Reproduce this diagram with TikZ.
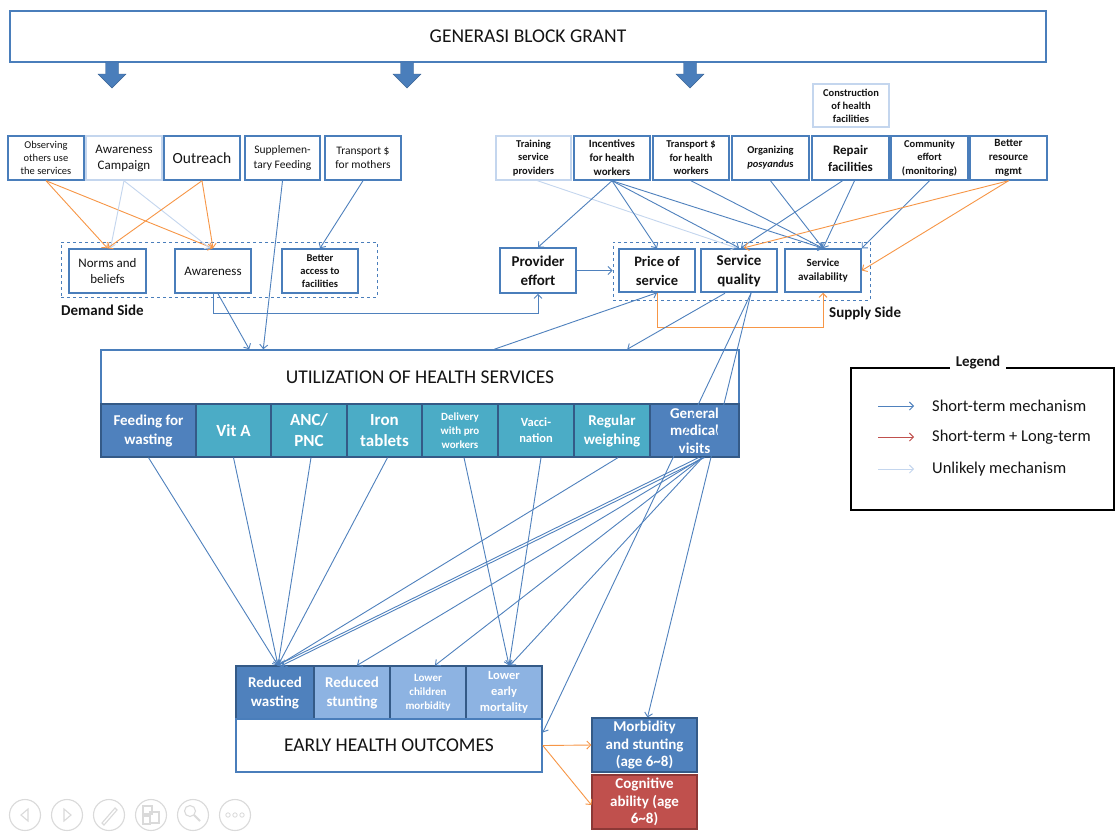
\documentclass[tikz,border=0pt]{standalone}
\usepackage{fontspec}
\setmainfont{Carlito}
\usetikzlibrary{arrows.meta,calc}
\pgfdeclarelayer{background}
\pgfsetlayers{background,main}
\definecolor{bl}{RGB}{74,126,187}
\definecolor{cb}{RGB}{79,129,189}
\definecolor{unl}{RGB}{196,214,238}
\definecolor{orl}{RGB}{247,150,70}
\definecolor{teal}{RGB}{75,172,198}
\definecolor{dkb}{RGB}{79,129,189}
\definecolor{ltb}{RGB}{141,179,226}
\definecolor{celb}{RGB}{52,90,135}
\definecolor{redc}{RGB}{192,80,77}
\definecolor{redb}{RGB}{140,56,54}
\definecolor{txt}{RGB}{20,20,20}
\definecolor{navg}{RGB}{218,218,218}
\newcommand\fz[2]{\fontsize{#1}{#2}\selectfont}
\begin{document}
\begin{tikzpicture}[x=1pt,y=-1pt,
  box/.style={draw=bl,line width=1.5pt,fill=white,align=center,inner sep=0pt,text=txt},
  lbox/.style={box,draw=unl},
  dbox/.style={draw=bl,line width=0.9pt,dashed,inner sep=0pt},
  cell/.style={draw=celb,line width=1.2pt,align=center,inner sep=0pt,text=white},
  barr/.style={draw=cb,line width=0.9pt,-{Straight Barb[length=4pt,width=8pt]}},
  larr/.style={draw=unl,line width=0.9pt,-{Straight Barb[length=4pt,width=8pt]}},
  oarr/.style={draw=orl,line width=0.9pt,-{Straight Barb[length=4pt,width=8pt]}},
  rarr/.style={draw=redc,line width=0.9pt,-{Straight Barb[length=4pt,width=8pt]}},
  blockarrow/.style={fill=bl,draw=bl!80!black,line width=0.4pt},
  nav/.style={draw=navg,line width=1.1pt}
]
\useasboundingbox[fill=white] (0,0) rectangle (1115,831);

% top box
\node[box,minimum width=1036pt,minimum height=51pt,font=\fz{19.5}{22}] (grant) at (528,36.5) {GENERASI BLOCK GRANT};
\foreach \c in {112,407,690}{
  \path[blockarrow] (\c-6.5,62) -- (\c+6.5,62) -- (\c+6.5,74) -- (\c+14,74) -- (\c,88) -- (\c-14,74) -- (\c-6.5,74) -- cycle;
}

% demand side
\node[dbox,minimum width=316pt,minimum height=55pt] (demand) at (219,269.5) {};
\node[anchor=west,font=\bfseries\fz{15}{17},text=txt,inner sep=0pt] (demlab) at (61,310) {Demand Side};
\node[box,minimum width=76pt,minimum height=44pt,font=\fz{10.5}{13}] (obs) at (46,158) {Observing\\others use\\the services};
\node[lbox,minimum width=76pt,minimum height=44pt,font=\fz{13}{16}] (awc) at (124,158) {Awareness\\Campaign};
\node[box,minimum width=76pt,minimum height=44pt,font=\fz{15.5}{18}] (outr) at (202,158) {Outreach};
\node[box,minimum width=75pt,minimum height=44pt,font=\fz{11.5}{14.5}] (supp) at (282.5,158) {Supplemen-\\tary Feeding};
\node[box,minimum width=76pt,minimum height=44pt,font=\fz{11.5}{14.5}] (trm) at (363,158) {Transport \$\\for mothers};
\node[box,minimum width=77pt,minimum height=44pt,font=\fz{13}{16}] (norms) at (107.5,271) {Norms and\\beliefs};
\node[box,minimum width=76pt,minimum height=44pt,font=\fz{13}{16}] (awa) at (213,271) {Awareness};
\node[box,minimum width=76pt,minimum height=44pt,font=\bfseries\fz{10.5}{13}] (bacc) at (320,271) {Better\\access to\\facilities};

% supply side
\node[dbox,minimum width=257pt,minimum height=58pt] (supply) at (741.5,271) {};
\node[anchor=west,font=\bfseries\fz{15}{17},text=txt,inner sep=0pt] (suplab) at (829,313) {Supply Side};
\node[lbox,minimum width=76pt,minimum height=43pt,font=\bfseries\fz{10.5}{13}] (cons) at (851,105.5) {Construction\\of health\\facilities};
\node[lbox,minimum width=75pt,minimum height=44pt,font=\bfseries\fz{10.5}{13.5}] (train) at (533.5,158) {Training\\service\\providers};
\node[box,minimum width=76pt,minimum height=44pt,font=\bfseries\fz{11}{14}] (inc) at (612,158) {Incentives\\for health\\workers};
\node[box,minimum width=76pt,minimum height=44pt,font=\bfseries\fz{10.5}{13.5}] (trh) at (691,158) {Transport \$\\for health\\workers};
\node[box,minimum width=77pt,minimum height=44pt,font=\bfseries\fz{10.5}{14}] (org) at (770.5,158) {Organizing\\\textit{posyandu}s};
\node[box,minimum width=77pt,minimum height=44pt,font=\bfseries\fz{13}{17}] (rep) at (850.5,158) {Repair\\facilities};
\node[box,minimum width=77pt,minimum height=44pt,font=\bfseries\fz{10.5}{13.5}] (com) at (929.5,158) {Community\\effort\\(monitoring)};
\node[box,minimum width=77pt,minimum height=44pt,font=\bfseries\fz{11}{14}] (brm) at (1008.5,158) {Better\\resource\\mgmt};
\node[box,minimum width=76pt,minimum height=45pt,font=\bfseries\fz{15}{19}] (prov) at (538,270.5) {Provider\\effort};
\node[box,minimum width=76pt,minimum height=43pt,font=\bfseries\fz{14.5}{19}] (price) at (657,270.5) {Price of\\service};
\node[box,line width=2.4pt,minimum width=76pt,minimum height=43pt,font=\bfseries\fz{15}{19}] (qual) at (739,270.5) {Service\\quality};
\node[box,minimum width=76pt,minimum height=43pt,font=\bfseries\fz{11}{14}] (avail) at (823,270.5) {Service\\availability};

% utilization
\node[box,minimum width=638pt,minimum height=54pt,font=\fz{19.5}{22}] (util) at (420,377) {UTILIZATION OF HEALTH SERVICES};
\node[cell,fill=dkb,minimum width=95pt,minimum height=53pt,font=\bfseries\fz{15}{19}] (feed) at (148.5,430.5) {Feeding for\\wasting};
\node[cell,fill=teal,minimum width=75pt,minimum height=53pt,font=\bfseries\fz{17}{21}] (vita) at (233.5,430.5) {Vit A};
\node[cell,fill=teal,minimum width=76pt,minimum height=53pt,font=\bfseries\fz{17}{21}] (anc) at (309,430.5) {ANC/\\PNC};
\node[cell,fill=teal,minimum width=75pt,minimum height=53pt,font=\bfseries\fz{17}{21}] (iron) at (384.5,430.5) {Iron\\tablets};
\node[cell,fill=teal,minimum width=76pt,minimum height=53pt,font=\bfseries\fz{11}{14}] (deliv) at (460,430.5) {Delivery\\with pro\\workers};
\node[cell,fill=teal,minimum width=76pt,minimum height=53pt,font=\bfseries\fz{12.5}{16}] (vacc) at (536,430.5) {Vacci-\\nation};
\node[cell,fill=teal,minimum width=76pt,minimum height=53pt,font=\bfseries\fz{15}{19}] (reg) at (612,430.5) {Regular\\weighing};
\node[cell,fill=dkb,minimum width=89pt,minimum height=53pt,font=\bfseries\fz{15}{17.5}] (gmv) at (694.5,430.5) {General\\medical\\visits};

% outcomes
\node[cell,fill=dkb,minimum width=78pt,minimum height=53pt,font=\bfseries\fz{15}{19}] (rw) at (275,692.5) {Reduced\\wasting};
\node[cell,fill=ltb,minimum width=76pt,minimum height=53pt,font=\bfseries\fz{15}{19}] (rs) at (352,692.5) {Reduced\\stunting};
\node[cell,fill=ltb,minimum width=76pt,minimum height=53pt,font=\bfseries\fz{11}{14}] (lcm) at (428,692.5) {Lower\\children\\morbidity};
\node[cell,fill=ltb,minimum width=76pt,minimum height=53pt,font=\bfseries\fz{12.5}{16}] (lem) at (504,692.5) {Lower\\early\\mortality};
\node[box,minimum width=306pt,minimum height=53pt,font=\fz{19.5}{22}] (eho) at (389,745.5) {EARLY HEALTH OUTCOMES};
\node[cell,fill=dkb,minimum width=105pt,minimum height=54pt,font=\bfseries\fz{15}{17.5}] (mors) at (644.5,745) {Morbidity\\and stunting\\(age 6\textasciitilde8)};
\node[cell,draw=redb,fill=redc,minimum width=105pt,minimum height=54pt,font=\bfseries\fz{15}{17.5}] (cog) at (644.5,802) {Cognitive\\ability (age\\6\textasciitilde8)};

% legend
\draw[line width=1.3pt,draw=black] (851,368) rectangle (1114,510);
\node[fill=white,inner xsep=6pt,inner ysep=1pt,font=\bfseries\fz{15}{17},text=txt] (leg) at (978,362) {Legend};
\coordinate (l1a) at (878,406); \coordinate (l1b) at (914,406);
\coordinate (l2a) at (878,437); \coordinate (l2b) at (914,437);
\coordinate (l3a) at (878,469); \coordinate (l3b) at (914,469);
\draw[barr] (l1a) -- (l1b);
\draw[rarr] (l2a) -- (l2b);
\draw[larr] (l3a) -- (l3b);
\node[anchor=west,inner sep=0pt,font=\fz{16.5}{19},text=txt] (t1) at (932,406) {Short-term mechanism};
\node[anchor=west,inner sep=0pt,font=\fz{16.5}{19},text=txt] (t2) at (932,437) {Short-term + Long-term};
\node[anchor=west,inner sep=0pt,font=\fz{16.5}{19},text=txt] (t3) at (932,469) {Unlikely mechanism};

% connectors: demand side
\draw[oarr] (obs.south) -- (norms.north);
\draw[oarr] (obs.south) -- (awa.north);
\draw[larr] (awc.south) -- ([xshift=3pt]norms.north);
\draw[larr] (awc.south) -- ([xshift=-3pt]awa.north);
\draw[oarr] (outr.south) -- (norms.north);
\draw[oarr] (outr.south) -- (awa.north);
\draw[barr] (supp.south) -- ([xshift=163pt]util.north west);
\draw[barr] (trm.south) -- (bacc.north);
\draw[barr] ([xshift=5pt]awa.south) -- ([xshift=149pt]util.north west);
\draw[barr] (awa.south) -- ++(0,20) -| (prov.south);

% connectors: supply side
\begin{pgfonlayer}{background}
\draw[larr] (cons.south) -- ([xshift=-2pt]avail.north);
\end{pgfonlayer}
\draw[larr] ([xshift=4pt]train.south) -- ([xshift=-3pt]qual.north);
\draw[barr] (inc.south) -- (prov.north);
\draw[barr] (inc.south) -- (price.north);
\draw[barr] (inc.south) -- (qual.north);
\draw[barr] (inc.south) -- (avail.north);
\draw[barr] (trh.south) -- (avail.north);
\draw[barr] (org.south) -- (avail.north);
\draw[barr] ([xshift=-8pt]rep.south) -- ([xshift=2pt]qual.north);
\draw[barr] ([xshift=4pt]rep.south) -- (avail.north);
\draw[barr] (com.south) -- (avail.north east);
\draw[oarr] (brm.south) -- ([xshift=5pt]qual.north);
\draw[oarr] (brm.south) -- (avail.east);
\draw[barr] (prov.east) -- (prov.east -| supply.west);
\draw[oarr] (price.south) -- ++(0,35) -| (avail.south);
\draw[barr] ([xshift=394pt]util.north west) -- (price.south);
\draw[barr] ([xshift=-14pt]qual.south) -- ([xshift=527pt]util.north west);
\draw[barr] ([xshift=12pt]qual.south) -- ([yshift=13pt]eho.east);
\draw[barr] ([xshift=12pt]qual.south) -- ([xshift=3pt]mors.north);

% connectors: services to outcomes
\draw[barr] (feed.south) -- ([xshift=3pt]rw.north);
\draw[barr] (vita.south) -- ([xshift=3pt]rw.north);
\draw[barr] ([xshift=2pt]anc.south) -- ([xshift=3pt]rw.north);
\draw[barr] ([xshift=3pt]iron.south) -- ([xshift=3pt]rw.north);
\draw[barr] ([xshift=4pt]deliv.south) -- ([xshift=5pt]lem.north);
\draw[barr] ([xshift=5pt]vacc.south) -- ([xshift=5pt]lem.north);
\draw[barr] ([xshift=6pt]reg.south) -- ([xshift=3pt]rw.north);
\draw[barr] ([xshift=4pt]gmv.south) -- ([xshift=2pt]rw.north);
\draw[barr] ([xshift=10pt]gmv.south) -- ([xshift=7pt]rw.north);
\draw[barr] ([xshift=8pt]gmv.south) -- ([xshift=5pt]rs.north);
\draw[barr] ([xshift=8pt]gmv.south) -- ([xshift=7pt]lcm.north);
\draw[barr] ([xshift=8pt]gmv.south) -- ([xshift=6pt]lem.north);
\draw[oarr] (eho.east) -- (mors.west);
\draw[oarr] (eho.east) -- ([yshift=-3pt]cog.west);

% slideshow controls
\foreach \x in {25,67,109,151,193,235}{ \draw[nav] (\x,815) circle (15.5); }
\draw[nav] (28,809) -- (21,815) -- (28,821) -- cycle;
\draw[nav] (64,809) -- (71,815) -- (64,821) -- cycle;
\draw[nav] (102,823) -- (115,808) -- (117,810) -- (104,825) -- cycle;
\draw[nav] (143,806) rectangle (152,814); \draw[nav] (143,816) rectangle (150,824); \draw[nav] (150,812) rectangle (159,823);
\draw[nav] (190,811) circle (5.5); \draw[nav,line width=2pt] (194,815) -- (200,821);
\foreach \x in {228,235,242}{ \draw[nav,line width=0.8pt] (\x,815) circle (2.2); }
\end{tikzpicture}
\end{document}
